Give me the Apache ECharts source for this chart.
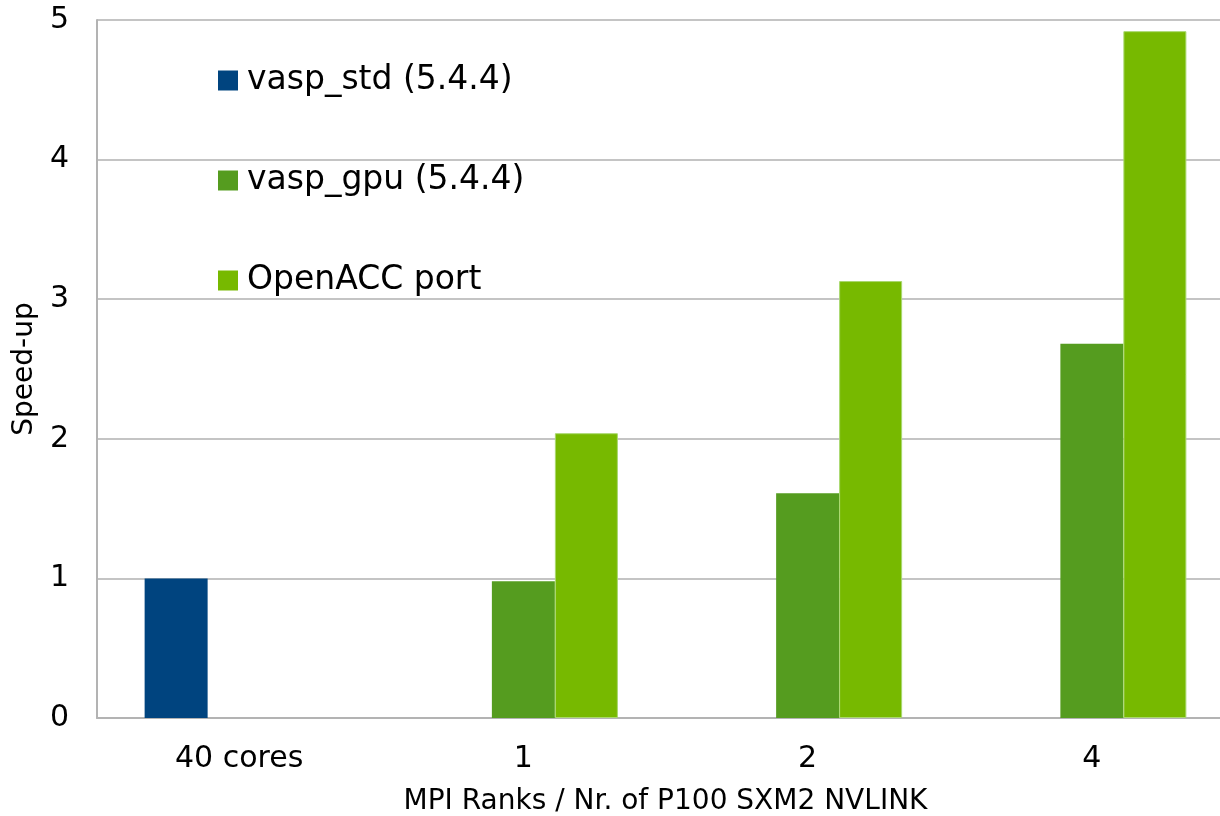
<!DOCTYPE html>
<html>
<head>
<meta charset="utf-8">
<script src="https://cdn.jsdelivr.net/npm/echarts@6/dist/echarts.min.js"></script>
<style>
  html, body { margin: 0; padding: 0; background: #fff; }
  #chart { width: 1220px; height: 816px; }
</style>
</head>
<body>
<div id="chart"></div>
<script>
// categories on the x axis
const categories = ['40 cores', '1', '2', '4'];
// speed-up per series (null = no bar)
const vaspStd = [1.0, null, null, null];
const vaspGpu = [null, 0.98, 1.61, 2.68];
const openAcc = [null, 2.04, 3.13, 4.92];
const yTicks = [0, 1, 2, 3, 4, 5];

const font = 'DejaVu Sans';
const chart = echarts.init(document.getElementById('chart'));

chart.setOption({
  animation: false,
  textStyle: { fontFamily: font },
  // plot runs a bit past the right edge, like the original slide
  grid: { left: 97, width: 1137, top: 20, bottom: 98, outerBoundsMode: 'none' },
  legend: {
    orient: 'vertical',
    left: 218,
    top: 64,
    padding: 0,
    itemWidth: 20,
    itemHeight: 20,
    itemGap: 67,
    icon: 'rect',
    itemStyle: { borderWidth: 0 },
    textStyle: { fontFamily: font, fontSize: 33, color: '#000', lineHeight: 31, padding: [0, 0, 0, 4] },
    data: ['vasp_std (5.4.4)', 'vasp_gpu (5.4.4)', 'OpenACC port']
  },
  xAxis: {
    type: 'category',
    data: categories,
    name: 'MPI Ranks / Nr. of P100 SXM2 NVLINK',
    nameLocation: 'middle',
    nameGap: 70,
    nameTextStyle: { fontFamily: font, fontSize: 28, color: '#000' },
    axisLine: { lineStyle: { color: '#b3b3b3', width: 2 } },
    axisTick: { show: false },
    axisLabel: { fontFamily: font, fontSize: 30, color: '#000', margin: 26 }
  },
  yAxis: {
    type: 'value',
    min: yTicks[0],
    max: yTicks[yTicks.length - 1],
    interval: 1,
    name: 'Speed-up',
    nameLocation: 'middle',
    nameGap: 46,
    nameTextStyle: { fontFamily: font, fontSize: 28, color: '#000' },
    axisLine: { show: true, lineStyle: { color: '#b3b3b3', width: 2 } },
    axisTick: { show: false },
    axisLabel: { fontFamily: font, fontSize: 30, color: '#000', margin: 28 },
    splitLine: { lineStyle: { color: '#c4c4c4', width: 2 } }
  },
  series: [
    {
      name: 'vasp_std (5.4.4)',
      type: 'bar',
      data: vaspStd,
      barWidth: 63,
      barGap: '0%',
      itemStyle: { color: '#00447f' }
    },
    {
      name: 'vasp_gpu (5.4.4)',
      type: 'bar',
      data: vaspGpu,
      barWidth: 63,
      barGap: '0%',
      itemStyle: { color: '#559c1f' }
    },
    {
      name: 'OpenACC port',
      type: 'bar',
      data: openAcc,
      barWidth: 63,
      barGap: '0%',
      itemStyle: { color: '#77b900', borderColor: '#a9d86e', borderWidth: 1 }
    }
  ]
});
</script>
</body>
</html>
